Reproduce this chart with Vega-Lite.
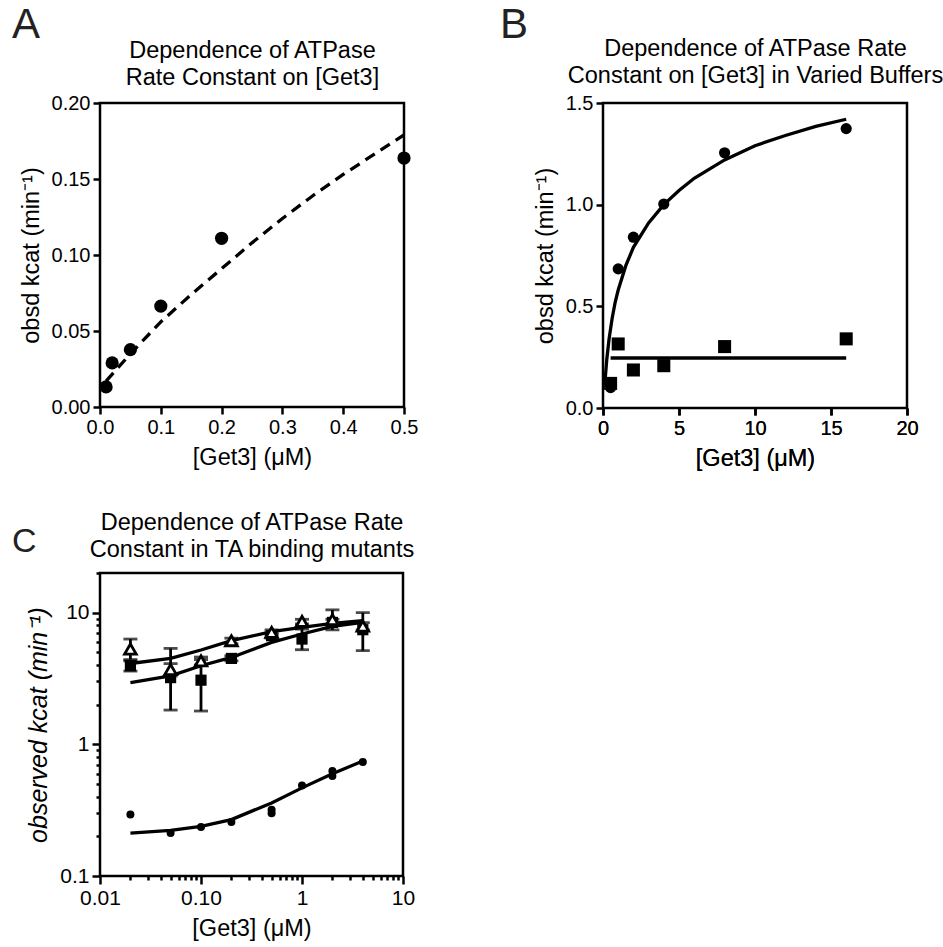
{
  "$schema": "https://vega.github.io/schema/vega-lite/v6.json",
  "background": "white",
  "padding": {"left": 10, "top": 2, "right": 5, "bottom": 5},
  "config": {
    "font": "Liberation Sans",
    "view": {"stroke": "black", "strokeWidth": 2.5},
    "axis": {
      "domain": false, "grid": false,
      "labelFont": "Liberation Sans", "labelFontSize": 20, "labelColor": "black",
      "labelFlush": false, "labelOverlap": false, "labelPadding": 3,
      "tickColor": "black", "tickWidth": 2.5, "tickSize": 7,
      "titleFont": "Liberation Sans", "titleFontSize": 23.5, "titleFontWeight": "normal", "titleColor": "black", "titlePadding": 8
    },
    "title": {"font": "Liberation Sans", "fontWeight": "normal", "fontSize": 42, "color": "#222222", "anchor": "start", "frame": "group"}
  },
  "datasets": {
    "a_pts": [
      {"conc": 0.01, "rate": 0.0132}, {"conc": 0.02, "rate": 0.029}, {"conc": 0.05, "rate": 0.0377},
      {"conc": 0.1, "rate": 0.0664}, {"conc": 0.2, "rate": 0.111}, {"conc": 0.5, "rate": 0.1638}
    ],
    "a_fit": [
      {"conc": 0.01, "rate": 0.017}, {"conc": 0.05, "rate": 0.035}, {"conc": 0.1, "rate": 0.056},
      {"conc": 0.15, "rate": 0.074}, {"conc": 0.2, "rate": 0.091}, {"conc": 0.25, "rate": 0.108},
      {"conc": 0.3, "rate": 0.124}, {"conc": 0.35, "rate": 0.139}, {"conc": 0.4, "rate": 0.153},
      {"conc": 0.45, "rate": 0.166}, {"conc": 0.5, "rate": 0.179}
    ],
    "b_pts": [
      {"conc": 0.5, "rate": 0.10, "buffer": "circle"}, {"conc": 1, "rate": 0.684, "buffer": "circle"},
      {"conc": 2, "rate": 0.84, "buffer": "circle"}, {"conc": 4, "rate": 1.003, "buffer": "circle"},
      {"conc": 8, "rate": 1.255, "buffer": "circle"}, {"conc": 16, "rate": 1.374, "buffer": "circle"},
      {"conc": 0.5, "rate": 0.121, "buffer": "square"}, {"conc": 1, "rate": 0.315, "buffer": "square"},
      {"conc": 2, "rate": 0.187, "buffer": "square"}, {"conc": 4, "rate": 0.208, "buffer": "square"},
      {"conc": 8, "rate": 0.302, "buffer": "square"}, {"conc": 16, "rate": 0.34, "buffer": "square"}
    ],
    "b_fit": [
      {"conc": 0.12, "rate": 0.12, "buffer": "circle"}, {"conc": 0.25, "rate": 0.24, "buffer": "circle"},
      {"conc": 0.4, "rate": 0.34, "buffer": "circle"}, {"conc": 0.6, "rate": 0.44, "buffer": "circle"},
      {"conc": 0.8, "rate": 0.52, "buffer": "circle"}, {"conc": 1, "rate": 0.58, "buffer": "circle"},
      {"conc": 1.5, "rate": 0.70, "buffer": "circle"}, {"conc": 2, "rate": 0.79, "buffer": "circle"},
      {"conc": 3, "rate": 0.91, "buffer": "circle"}, {"conc": 4, "rate": 1.00, "buffer": "circle"},
      {"conc": 5, "rate": 1.07, "buffer": "circle"}, {"conc": 6, "rate": 1.13, "buffer": "circle"},
      {"conc": 8, "rate": 1.22, "buffer": "circle"}, {"conc": 10, "rate": 1.29, "buffer": "circle"},
      {"conc": 12, "rate": 1.34, "buffer": "circle"}, {"conc": 14, "rate": 1.385, "buffer": "circle"},
      {"conc": 16, "rate": 1.42, "buffer": "circle"},
      {"conc": 0.5, "rate": 0.246, "buffer": "square"}, {"conc": 16, "rate": 0.246, "buffer": "square"}
    ],
    "c_pts": [
      {"conc": 0.02, "rate": 0.293, "mutant": "circle"}, {"conc": 0.05, "rate": 0.212, "mutant": "circle"},
      {"conc": 0.1, "rate": 0.236, "mutant": "circle"}, {"conc": 0.2, "rate": 0.257, "mutant": "circle"},
      {"conc": 0.5, "rate": 0.30, "mutant": "circle"}, {"conc": 0.5, "rate": 0.318, "mutant": "circle"},
      {"conc": 1, "rate": 0.487, "mutant": "circle"}, {"conc": 2, "rate": 0.626, "mutant": "circle"},
      {"conc": 2, "rate": 0.574, "mutant": "circle"}, {"conc": 4, "rate": 0.733, "mutant": "circle"},
      {"conc": 0.02, "rate": 3.95, "lo": 3.6, "hi": 4.3, "mutant": "square"},
      {"conc": 0.05, "rate": 3.21, "lo": 1.82, "hi": 5.35, "mutant": "square"},
      {"conc": 0.1, "rate": 3.07, "lo": 1.79, "hi": 4.4, "mutant": "square"},
      {"conc": 0.2, "rate": 4.49, "lo": 4.3, "hi": 4.7, "mutant": "square"},
      {"conc": 0.5, "rate": 6.68, "lo": 6.4, "hi": 7.0, "mutant": "square"},
      {"conc": 1, "rate": 6.3, "lo": 5.23, "hi": 7.5, "mutant": "square"},
      {"conc": 2, "rate": 8.43, "lo": 8.0, "hi": 8.9, "mutant": "square"},
      {"conc": 4, "rate": 7.42, "lo": 5.14, "hi": 10.0, "mutant": "square"},
      {"conc": 0.02, "rate": 5.29, "lo": 4.4, "hi": 6.3, "mutant": "triangle"},
      {"conc": 0.05, "rate": 3.7, "lo": 3.3, "hi": 4.1, "mutant": "triangle"},
      {"conc": 0.1, "rate": 4.3, "lo": 4.0, "hi": 4.6, "mutant": "triangle"},
      {"conc": 0.2, "rate": 6.12, "lo": 5.8, "hi": 6.4, "mutant": "triangle"},
      {"conc": 0.5, "rate": 7.08, "lo": 6.8, "hi": 7.4, "mutant": "triangle"},
      {"conc": 1, "rate": 8.58, "lo": 8.2, "hi": 8.9, "mutant": "triangle"},
      {"conc": 2, "rate": 8.84, "lo": 7.4, "hi": 10.5, "mutant": "triangle"},
      {"conc": 4, "rate": 7.9, "lo": 7.4, "hi": 8.4, "mutant": "triangle"}
    ],
    "c_fit": [
      {"conc": 0.02, "rate": 0.212, "mutant": "circle"}, {"conc": 0.05, "rate": 0.222, "mutant": "circle"},
      {"conc": 0.1, "rate": 0.238, "mutant": "circle"}, {"conc": 0.2, "rate": 0.268, "mutant": "circle"},
      {"conc": 0.5, "rate": 0.359, "mutant": "circle"}, {"conc": 1, "rate": 0.467, "mutant": "circle"},
      {"conc": 2, "rate": 0.597, "mutant": "circle"}, {"conc": 4, "rate": 0.746, "mutant": "circle"},
      {"conc": 0.02, "rate": 2.94, "mutant": "square"}, {"conc": 0.05, "rate": 3.31, "mutant": "square"},
      {"conc": 0.1, "rate": 3.95, "mutant": "square"}, {"conc": 0.2, "rate": 4.57, "mutant": "square"},
      {"conc": 0.5, "rate": 5.94, "mutant": "square"}, {"conc": 1, "rate": 6.88, "mutant": "square"},
      {"conc": 2, "rate": 7.87, "mutant": "square"}, {"conc": 4, "rate": 8.43, "mutant": "square"},
      {"conc": 0.02, "rate": 4.11, "mutant": "triangle"}, {"conc": 0.05, "rate": 4.49, "mutant": "triangle"},
      {"conc": 0.1, "rate": 5.2, "mutant": "triangle"}, {"conc": 0.2, "rate": 6.12, "mutant": "triangle"},
      {"conc": 0.5, "rate": 7.17, "mutant": "triangle"}, {"conc": 1, "rate": 7.73, "mutant": "triangle"},
      {"conc": 2, "rate": 8.29, "mutant": "triangle"}, {"conc": 4, "rate": 8.69, "mutant": "triangle"}
    ]
  },
  "columns": 2,
  "spacing": {"column": 78, "row": 37},
  "concat": [
    {
      "width": 304, "height": 304,
      "title": {"text": "A", "dx": -88, "offset": -9},
      "layer": [
        {
          "data": {"name": "a_fit"},
          "mark": {"type": "line", "color": "black", "strokeWidth": 3.3, "strokeDash": [11, 7]},
          "encoding": {
            "x": {"field": "conc", "type": "quantitative", "scale": {"domain": [0, 0.5], "nice": false},
              "axis": {"orient": "top", "ticks": false, "labels": false, "titlePadding": 14, "titleLineHeight": 27,
                "title": ["Dependence of ATPase", "Rate Constant on [Get3]"]}},
            "y": {"field": "rate", "type": "quantitative", "scale": {"domain": [0, 0.2], "nice": false},
              "axis": {"title": "obsd kcat (min⁻¹)", "values": [0, 0.05, 0.1, 0.15, 0.2], "format": ".2f"}}
          }
        },
        {
          "data": {"name": "a_pts"},
          "mark": {"type": "point", "shape": "circle", "filled": true, "size": 175, "color": "black", "opacity": 1},
          "encoding": {
            "x": {"field": "conc", "type": "quantitative", "axis": {"title": "[Get3] (μM)", "values": [0, 0.1, 0.2, 0.3, 0.4, 0.5], "format": ".1f"}},
            "y": {"field": "rate", "type": "quantitative", "axis": {"title": "obsd kcat (min⁻¹)"}}
          }
        }
      ],
      "resolve": {"axis": {"x": "independent"}}
    },
    {
      "width": 304, "height": 305,
      "title": {"text": "B", "dx": -103, "offset": -11},
      "layer": [
        {
          "data": {"name": "b_fit"},
          "mark": {"type": "line", "color": "black", "strokeWidth": 3.3},
          "encoding": {
            "x": {"field": "conc", "type": "quantitative", "scale": {"domain": [0, 20], "nice": false},
              "axis": {"orient": "top", "ticks": false, "labels": false, "titlePadding": 16, "titleLineHeight": 27,
                "title": ["Dependence of ATPase Rate", "Constant on [Get3] in Varied Buffers"]}},
            "y": {"field": "rate", "type": "quantitative", "scale": {"domain": [0, 1.5], "nice": false},
              "axis": {"title": "obsd kcat (min⁻¹)", "values": [0, 0.5, 1, 1.5], "format": ".1f"}},
            "detail": {"field": "buffer"}
          }
        },
        {
          "data": {"name": "b_pts"},
          "transform": [{"filter": "datum.buffer == 'circle'"}],
          "mark": {"type": "point", "shape": "circle", "filled": true, "size": 125, "color": "black", "opacity": 1},
          "encoding": {
            "x": {"field": "conc", "type": "quantitative", "axis": {"title": "[Get3] (μM)", "values": [0, 5, 10, 15, 20]}},
            "y": {"field": "rate", "type": "quantitative", "axis": {"title": "obsd kcat (min⁻¹)"}}
          }
        },
        {
          "data": {"name": "b_pts"},
          "transform": [{"filter": "datum.buffer == 'square'"}],
          "mark": {"type": "point", "shape": "square", "filled": true, "size": 170, "color": "black", "opacity": 1},
          "encoding": {
            "x": {"field": "conc", "type": "quantitative", "axis": {"title": "[Get3] (μM)", "values": [0, 5, 10, 15, 20]}},
            "y": {"field": "rate", "type": "quantitative", "axis": {"title": "obsd kcat (min⁻¹)"}}
          }
        }
      ],
      "resolve": {"axis": {"x": "independent"}}
    },
    {
      "width": 303, "height": 303,
      "title": {"text": "C", "dx": -88, "offset": -49, "fontSize": 34},
      "layer": [
        {
          "data": {"name": "c_fit"},
          "mark": {"type": "line", "color": "black", "strokeWidth": 3.3},
          "encoding": {
            "x": {"field": "conc", "type": "quantitative", "scale": {"type": "log", "domain": [0.01, 10], "nice": false},
              "axis": {"orient": "top", "ticks": false, "labels": false, "titlePadding": 12, "titleLineHeight": 27,
                "title": ["Dependence of ATPase Rate", "Constant in TA binding mutants"]}},
            "y": {"field": "rate", "type": "quantitative", "scale": {"type": "log", "domain": [0.1, 20], "nice": false},
              "axis": {"title": "observed kcat (min⁻¹)", "titleFontStyle": "italic", "titleFontSize": 25, "labelFontSize": 21,
                "values": [0.1, 0.2, 0.3, 0.4, 0.5, 0.6, 0.7, 0.8, 0.9, 1, 2, 3, 4, 5, 6, 7, 8, 9, 10, 20],
                "labelExpr": "datum.value == 0.1 ? '0.1' : datum.value == 1 ? '1' : datum.value == 10 ? '10' : ''",
                "tickSize": {"condition": {"test": "abs(log(datum.value) / LN10 - round(log(datum.value) / LN10)) < 0.000001", "value": 8}, "value": 4}}},
            "detail": {"field": "mutant"}
          }
        },
        {
          "data": {"name": "c_pts"},
          "transform": [{"filter": "isValid(datum.lo)"}],
          "mark": {"type": "rule", "color": "black", "strokeWidth": 2.8},
          "encoding": {
            "x": {"field": "conc", "type": "quantitative", "axis": null},
            "y": {"field": "lo", "type": "quantitative", "axis": {"title": "observed kcat (min⁻¹)"}},
            "y2": {"field": "hi"}
          }
        },
        {
          "data": {"name": "c_pts"},
          "transform": [{"filter": "isValid(datum.lo)"}],
          "mark": {"type": "tick", "color": "black", "orient": "horizontal", "size": 14, "thickness": 2.8},
          "encoding": {
            "x": {"field": "conc", "type": "quantitative", "axis": null},
            "y": {"field": "lo", "type": "quantitative", "axis": {"title": "observed kcat (min⁻¹)"}}
          }
        },
        {
          "data": {"name": "c_pts"},
          "transform": [{"filter": "isValid(datum.lo)"}],
          "mark": {"type": "tick", "color": "black", "orient": "horizontal", "size": 14, "thickness": 2.8},
          "encoding": {
            "x": {"field": "conc", "type": "quantitative", "axis": null},
            "y": {"field": "hi", "type": "quantitative", "axis": {"title": "observed kcat (min⁻¹)"}}
          }
        },
        {
          "data": {"name": "c_pts"},
          "transform": [{"filter": "datum.mutant == 'square'"}],
          "mark": {"type": "point", "shape": "square", "filled": true, "size": 125, "color": "black", "opacity": 1},
          "encoding": {
            "x": {"field": "conc", "type": "quantitative", "axis": null},
            "y": {"field": "rate", "type": "quantitative", "axis": {"title": "observed kcat (min⁻¹)"}}
          }
        },
        {
          "data": {"name": "c_pts"},
          "transform": [{"filter": "datum.mutant == 'triangle'"}],
          "mark": {"type": "point", "shape": "triangle-up", "filled": false, "fill": "white", "fillOpacity": 1, "strokeWidth": 2.8, "size": 135, "color": "black", "opacity": 1},
          "encoding": {
            "x": {"field": "conc", "type": "quantitative", "axis": null},
            "y": {"field": "rate", "type": "quantitative", "axis": {"title": "observed kcat (min⁻¹)"}}
          }
        },
        {
          "data": {"name": "c_pts"},
          "transform": [{"filter": "datum.mutant == 'circle'"}],
          "mark": {"type": "point", "shape": "circle", "filled": true, "size": 64, "color": "black", "opacity": 1},
          "encoding": {
            "x": {"field": "conc", "type": "quantitative",
              "axis": {"title": "[Get3] (μM)", "labelFontSize": 21,
                "values": [0.01, 0.02, 0.03, 0.04, 0.05, 0.06, 0.07, 0.08, 0.09, 0.1, 0.2, 0.3, 0.4, 0.5, 0.6, 0.7, 0.8, 0.9, 1, 2, 3, 4, 5, 6, 7, 8, 9, 10],
                "labelExpr": "datum.value == 0.01 ? '0.01' : datum.value == 0.1 ? '0.10' : datum.value == 1 ? '1' : datum.value == 10 ? '10' : ''",
                "tickSize": {"condition": {"test": "abs(log(datum.value) / LN10 - round(log(datum.value) / LN10)) < 0.000001", "value": 8}, "value": 4}}},
            "y": {"field": "rate", "type": "quantitative", "axis": {"title": "observed kcat (min⁻¹)"}}
          }
        }
      ],
      "resolve": {"axis": {"x": "independent"}}
    }
  ]
}
